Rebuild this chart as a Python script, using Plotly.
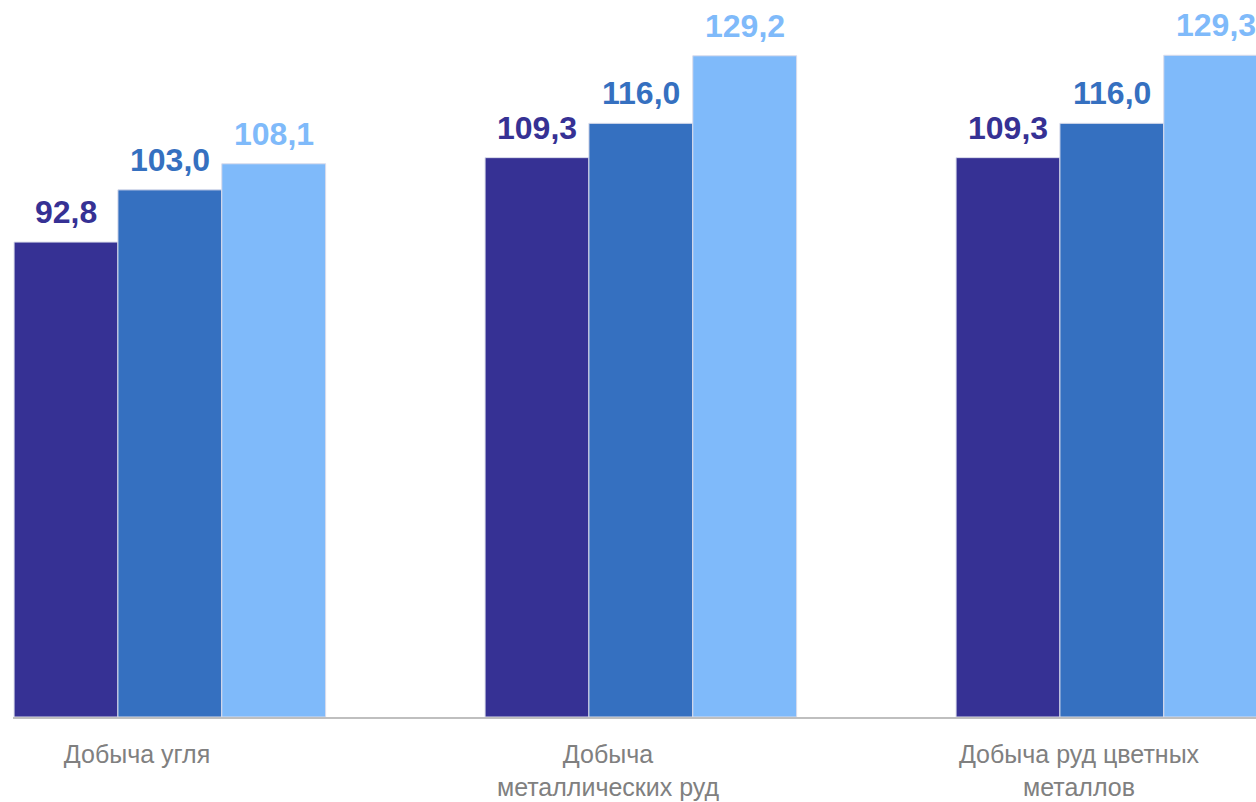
import plotly.graph_objects as go

categories = ["Добыча угля", "Добыча<br>металлических руд", "Добыча руд цветных<br>металлов"]
series_names = ["Серия 1", "Серия 2", "Серия 3"]
series_1 = [92.8, 109.3, 109.3]
series_2 = [103.0, 116.0, 116.0]
series_3 = [108.1, 129.2, 129.3]
colors = ["#363194", "#3570C0", "#7FBAFA"]

x_pos = list(range(len(categories)))
bar_w = 0.2205
start = -0.261

fig = go.Figure()
for i, (name, vals, col) in enumerate(zip(series_names, [series_1, series_2, series_3], colors)):
    fig.add_trace(go.Bar(
        x=x_pos, y=vals, name=name,
        width=[bar_w] * len(vals),
        offset=start + i * bar_w,
        marker=dict(color=col, line=dict(color="#DADCEB", width=1)),
        hoverinfo="y",
    ))
    for xp, v in zip(x_pos, vals):
        fig.add_annotation(
            x=xp + start + (i + 0.5) * bar_w, y=v,
            xref="x", yref="y",
            text=f"{v:.1f}".replace(".", ","),
            showarrow=False, yanchor="bottom", xanchor="center",
            yshift=10,
            font=dict(family="Liberation Sans", size=32, color=col, weight="bold"),
        )

fig.update_layout(
    width=1256, height=802,
    barmode="overlay",
    separators=", ",
    showlegend=False,
    plot_bgcolor="white", paper_bgcolor="white",
    margin=dict(l=13, r=0, t=0, b=85, autoexpand=False),
    xaxis=dict(
        tickmode="array", tickvals=x_pos, ticktext=categories,
        range=[(13 - 137) / 471, (1256 - 137) / 471],
        showline=True, linecolor="#BFBFBF", linewidth=2,
        showgrid=False, zeroline=False, ticks="",
        automargin=False,
        ticklabelstandoff=14,
        tickfont=dict(family="Liberation Sans", size=25, color="#808080"),
    ),
    yaxis=dict(range=[0, 140.1], visible=False, showgrid=False, zeroline=False,
               automargin=False),
)

fig.write_html(
    "out.html",
    config={"displayModeBar": False},
    post_script="document.body.style.margin='0';document.body.style.overflow='hidden';",
)
